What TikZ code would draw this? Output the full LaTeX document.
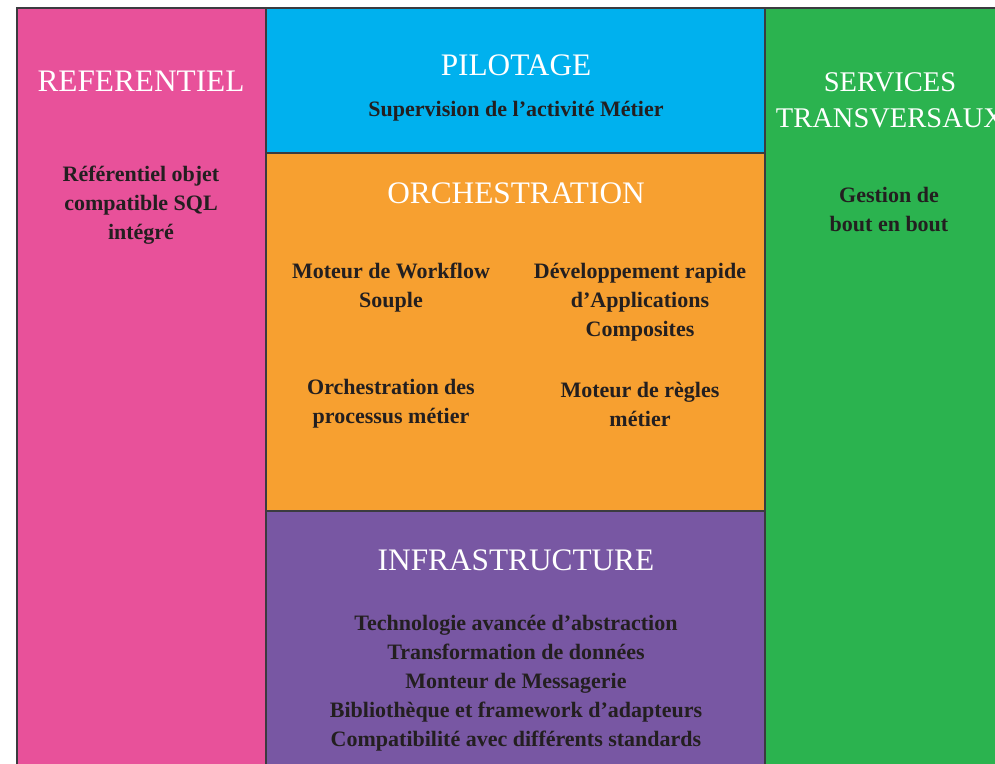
\documentclass[tikz,border=0pt]{standalone}
\usepackage{fontspec}
\setmainfont{Liberation Serif}
\definecolor{cpink}{HTML}{E8519A}
\definecolor{cblue}{HTML}{00B1EE}
\definecolor{corange}{HTML}{F7A030}
\definecolor{cpurple}{HTML}{7857A3}
\definecolor{cgreen}{HTML}{2BB34F}
\definecolor{cline}{HTML}{3B3B3F}
\definecolor{ctext}{HTML}{231F20}
\tikzset{
  panel/.style={draw=cline, line width=1.3pt},
  titletext/.style={text=white, align=center, font=\fontsize{31.3}{36}\selectfont, inner sep=0pt},
  bodytext/.style={text=ctext, align=center, font=\fontsize{22}{29}\selectfont\bfseries, inner sep=0pt}
}
\begin{document}
\begin{tikzpicture}[x=1pt,y=-1pt]
\useasboundingbox (0,0) rectangle (995,763);
\fill[white] (0,0) rectangle (995,763);
% panels
\path[panel, fill=cpink] (17,8) rectangle (266,775);
\path[panel, fill=cblue] (266,8) rectangle (765,153);
\path[panel, fill=corange] (266,153) rectangle (765,511);
\path[panel, fill=cpurple] (266,511) rectangle (765,775);
\path[panel, fill=cgreen] (765,8) rectangle (1005,775);
% texts
\node[titletext] (reft) at (141,81) {REFERENTIEL};
\node[bodytext] (refb) at (141,205) {Référentiel objet\\compatible SQL\\intégré};
\node[titletext] (pilt) at (516,65) {PILOTAGE};
\node[bodytext] (pilb) at (516,111) {Supervision de l’activité Métier};
\node[titletext] (orct) at (516,193) {ORCHESTRATION};
\node[bodytext] (orc1) at (391,288) {Moteur de Workflow\\Souple};
\node[bodytext] (orc2) at (640,302) {Développement rapide\\d’Applications\\Composites};
\node[bodytext] (orc3) at (391,404) {Orchestration des\\processus métier};
\node[bodytext] (orc4) at (640,404) {Moteur de règles\\métier};
\node[titletext] (inft) at (516,560) {INFRASTRUCTURE};
\node[bodytext] (infb) at (516,683) {Technologie avancée d’abstraction\\Transformation de données\\Monteur de Messagerie\\Bibliothèque et framework d’adapteurs\\Compatibilité avec différents standards};
\node[titletext, font=\fontsize{28.5}{36}\selectfont] (sert) at (890,100) {SERVICES\\TRANSVERSAUX};
\node[bodytext] (serb) at (889,209) {Gestion de\\bout en bout};
\end{tikzpicture}
\end{document}
